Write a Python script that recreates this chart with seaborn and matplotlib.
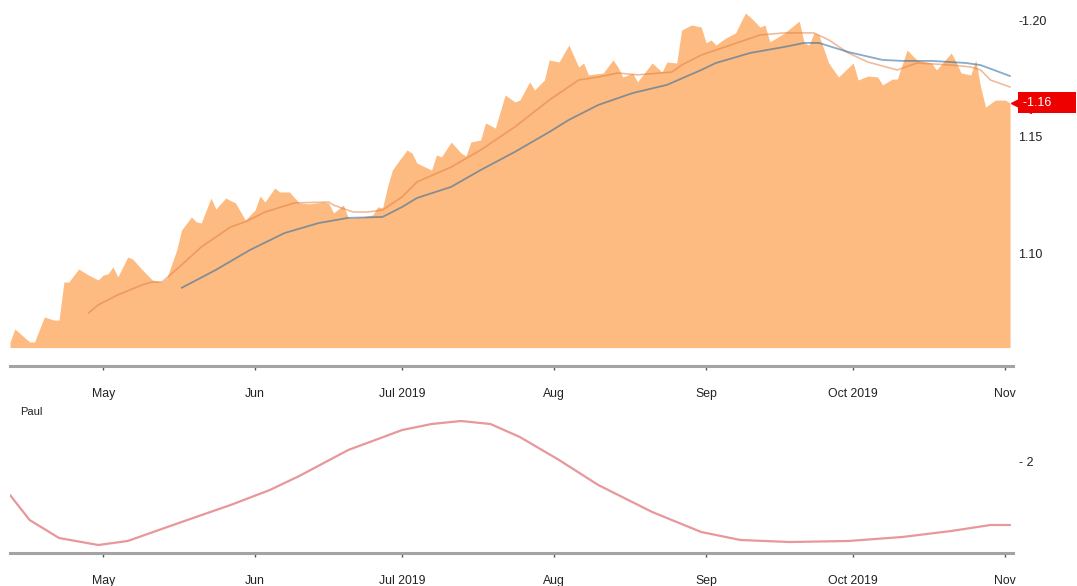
import numpy as np
import pandas as pd
import matplotlib
matplotlib.use('Agg')
import matplotlib.pyplot as plt
from matplotlib.transforms import blended_transform_factory
import seaborn as sns

sns.set_theme(style='white')
plt.rcParams['font.family'] = ['Liberation Sans', 'DejaVu Sans']

# ---------------- data ----------------
price_dates = ['2019-04-12','2019-04-13','2019-04-16','2019-04-17','2019-04-19','2019-04-21','2019-04-22','2019-04-23','2019-04-24','2019-04-26','2019-04-28','2019-04-30',
               '2019-05-01','2019-05-02','2019-05-03','2019-05-04','2019-05-06','2019-05-07','2019-05-09','2019-05-11','2019-05-13','2019-05-14','2019-05-16','2019-05-17','2019-05-19','2019-05-20','2019-05-21','2019-05-23','2019-05-24','2019-05-26','2019-05-28','2019-05-30',
               '2019-06-01','2019-06-02','2019-06-03','2019-06-05','2019-06-06','2019-06-08','2019-06-10','2019-06-12','2019-06-15','2019-06-16','2019-06-17','2019-06-19','2019-06-20','2019-06-21','2019-06-23','2019-06-25','2019-06-26','2019-06-27','2019-06-28','2019-06-29','2019-06-30',
               '2019-07-02','2019-07-03','2019-07-04','2019-07-07','2019-07-08','2019-07-09','2019-07-11','2019-07-13','2019-07-14','2019-07-15','2019-07-17','2019-07-18','2019-07-20','2019-07-22','2019-07-24','2019-07-25','2019-07-27','2019-07-28','2019-07-30','2019-07-31',
               '2019-08-02','2019-08-04','2019-08-06','2019-08-07','2019-08-08','2019-08-11','2019-08-13','2019-08-14','2019-08-15','2019-08-17','2019-08-18','2019-08-21','2019-08-23','2019-08-24','2019-08-26','2019-08-27','2019-08-29','2019-08-31',
               '2019-09-01','2019-09-02','2019-09-03','2019-09-05','2019-09-07','2019-09-09','2019-09-10','2019-09-12','2019-09-13','2019-09-14','2019-09-17','2019-09-20','2019-09-21','2019-09-22','2019-09-23','2019-09-24','2019-09-26','2019-09-28',
               '2019-10-01','2019-10-02','2019-10-04','2019-10-06','2019-10-07','2019-10-09','2019-10-10','2019-10-12','2019-10-13','2019-10-14','2019-10-17','2019-10-18','2019-10-21','2019-10-22','2019-10-23','2019-10-25','2019-10-26','2019-10-27','2019-10-28','2019-10-30',
               '2019-11-01','2019-11-02']
price_values = [1.0620, 1.0677, 1.0621, 1.0621, 1.0728, 1.0715, 1.0715, 1.0878, 1.0878, 1.0934, 1.0908, 1.0887,
                1.0908, 1.0913, 1.0943, 1.0900, 1.0985, 1.0977, 1.0930, 1.0887, 1.0878, 1.0895, 1.1015, 1.1101, 1.1157, 1.1136, 1.1131, 1.1238, 1.1191, 1.1238, 1.1217, 1.1144,
                1.1187, 1.1247, 1.1221, 1.1281, 1.1264, 1.1264, 1.1217, 1.1213, 1.1221, 1.1217, 1.1174, 1.1208, 1.1153, 1.1153, 1.1157, 1.1166, 1.1200, 1.1196, 1.1286, 1.1358, 1.1388,
                1.1444, 1.1431, 1.1388, 1.1358, 1.1423, 1.1414, 1.1478, 1.1431, 1.1418, 1.1478, 1.1487, 1.1560, 1.1538, 1.1680, 1.1650, 1.1658, 1.1736, 1.1701, 1.1744, 1.1830,
                1.1821, 1.1894, 1.1800, 1.1817, 1.1766, 1.1774, 1.1830, 1.1800, 1.1757, 1.1774, 1.1736, 1.1817, 1.1778, 1.1821, 1.1817, 1.1958, 1.1980, 1.1971,
                1.1903, 1.1916, 1.1894, 1.1924, 1.1946, 1.2031, 1.2014, 1.1971, 1.1980, 1.1907, 1.1946, 1.1997, 1.1903, 1.1894, 1.1946, 1.1937, 1.1817, 1.1757,
                1.1817, 1.1744, 1.1761, 1.1757, 1.1723, 1.1748, 1.1748, 1.1873, 1.1851, 1.1830, 1.1817, 1.1787, 1.1860, 1.1821, 1.1774, 1.1766, 1.1830, 1.1714, 1.1628, 1.1658,
                1.1658, 1.1646]

ma_fast_dates = ['2019-04-28','2019-04-30','2019-05-04','2019-05-09','2019-05-11','2019-05-13','2019-05-17','2019-05-21','2019-05-27','2019-05-30',
                 '2019-06-03','2019-06-09','2019-06-16','2019-06-17','2019-06-21','2019-06-24','2019-06-27','2019-07-01','2019-07-04','2019-07-11',
                 '2019-07-17','2019-07-24','2019-07-31','2019-08-06','2019-08-10','2019-08-14','2019-08-18','2019-08-25','2019-08-27','2019-08-31',
                 '2019-09-06','2019-09-12','2019-09-17','2019-09-23','2019-09-26','2019-09-30','2019-10-04','2019-10-10','2019-10-14','2019-10-21',
                 '2019-10-25','2019-10-27','2019-10-29','2019-11-02']
ma_fast_values = [1.0745, 1.0780, 1.0823, 1.0866, 1.0878, 1.0878, 1.0951, 1.1028, 1.1114, 1.1136,
                  1.1178, 1.1217, 1.1221, 1.1208, 1.1178, 1.1178, 1.1187, 1.1243, 1.1307, 1.1371,
                  1.1444, 1.1543, 1.1658, 1.1744, 1.1757, 1.1774, 1.1766, 1.1778, 1.1808, 1.1851,
                  1.1894, 1.1937, 1.1946, 1.1946, 1.1916, 1.1860, 1.1821, 1.1787, 1.1817, 1.1808,
                  1.1800, 1.1787, 1.1744, 1.1714]

ma_slow_dates = ['2019-05-17','2019-05-24','2019-05-31','2019-06-07','2019-06-14','2019-06-20','2019-06-27','2019-07-01','2019-07-04','2019-07-11',
                 '2019-07-17','2019-07-24','2019-07-31','2019-08-04','2019-08-10','2019-08-17','2019-08-24','2019-08-31','2019-09-03','2019-09-10',
                 '2019-09-17','2019-09-21','2019-09-24','2019-09-30','2019-10-07','2019-10-11','2019-10-17','2019-10-24','2019-10-27','2019-11-02']
ma_slow_values = [1.0853, 1.0930, 1.1016, 1.1088, 1.1131, 1.1153, 1.1157, 1.1200, 1.1238, 1.1286,
                  1.1358, 1.1436, 1.1521, 1.1573, 1.1637, 1.1688, 1.1723, 1.1787, 1.1817, 1.1860,
                  1.1886, 1.1903, 1.1903, 1.1864, 1.1830, 1.1826, 1.1826, 1.1817, 1.1808, 1.1761]

paul_dates = ['2019-04-12','2019-04-16','2019-04-22','2019-04-30','2019-05-06','2019-05-17','2019-05-27','2019-06-04','2019-06-10','2019-06-20',
              '2019-07-01','2019-07-07','2019-07-13','2019-07-19','2019-07-25','2019-08-02','2019-08-10','2019-08-21','2019-08-31','2019-09-08',
              '2019-09-18','2019-09-30','2019-10-11','2019-10-21','2019-10-29','2019-11-02']
paul_values = [1.32, 0.82, 0.46, 0.32, 0.40, 0.78, 1.12, 1.42, 1.70, 2.22,
               2.62, 2.74, 2.80, 2.74, 2.48, 2.02, 1.52, 0.98, 0.58, 0.42,
               0.38, 0.40, 0.48, 0.60, 0.72, 0.72]

month_ticks = ['2019-05-01','2019-06-01','2019-07-01','2019-08-01','2019-09-01','2019-10-01','2019-11-01']
month_labels = ['May', 'Jun', 'Jul 2019', 'Aug', 'Sep', 'Oct 2019', 'Nov']

price_ticks = [1.10, 1.15, 1.20]
price_tick_labels = ['1.10', '1.15', '-1.20']
paul_ticks = [2]
paul_tick_labels = ['- 2']
last_label = '-1.16'
panel_label = 'Paul'

# ---------------- frames ----------------
price = pd.DataFrame({'date': pd.to_datetime(price_dates), 'value': price_values})
fast = pd.DataFrame({'date': pd.to_datetime(ma_fast_dates), 'value': ma_fast_values})
slow = pd.DataFrame({'date': pd.to_datetime(ma_slow_dates), 'value': ma_slow_values})
paul = pd.DataFrame({'date': pd.to_datetime(paul_dates), 'value': paul_values})
ticks = pd.to_datetime(month_ticks)

W, H = 1077, 586
fig = plt.figure(figsize=(W / 100, H / 100), dpi=100)
ax1 = fig.add_axes([10 / W, 1 - 366 / H, 1003 / W, 366 / H])
ax2 = fig.add_axes([10 / W, 1 - 553 / H, 1003 / W, 148 / H])

xmin = pd.Timestamp('2019-04-12')
xmax = xmin + pd.Timedelta(days=204.6)

# top panel
base = 1.0597
ax1.fill_between(price['date'], base, price['value'], color='#fdbb82', lw=0, zorder=1)
sns.lineplot(data=fast, x='date', y='value', ax=ax1, color='#e07b39', alpha=0.5, lw=1.2, zorder=3)
sns.lineplot(data=slow, x='date', y='value', ax=ax1, color='#26669d', alpha=0.55, lw=1.3, zorder=3)
ax1.set_ylim(1.0518, 1.2087)
ax1.yaxis.tick_right()
ax1.set_yticks(price_ticks)
ax1.set_yticklabels(price_tick_labels)

# bottom panel
sns.lineplot(data=paul, x='date', y='value', ax=ax2, color='#e8979a', lw=1.6)
ax2.set_ylim(0.16, 3.12)
ax2.yaxis.tick_right()
ax2.set_yticks(paul_ticks)
ax2.set_yticklabels(paul_tick_labels)
ax2.text(0.01, 0.95, panel_label, transform=ax2.transAxes, fontsize=8, color='#222222', va='center', ha='left')

for ax in (ax1, ax2):
    ax.set_xlim(xmin, xmax)
    ax.set_xticks(ticks)
    ax.set_xticklabels(month_labels)
    ax.set_xlabel('')
    ax.set_ylabel('')
    ax.grid(False)
    for s in ('top', 'left', 'right'):
        ax.spines[s].set_visible(False)
    ax.spines['bottom'].set_color('#a3a3a3')
    ax.spines['bottom'].set_linewidth(2.2)
    ax.tick_params(axis='x', bottom=True, length=3, width=1, color='#555555', pad=13, labelsize=8.8, labelcolor='#222222')
    ax.tick_params(axis='y', right=True, left=False, length=0, pad=4, labelsize=9, labelcolor='#222222')
    ax.set_facecolor('none')

# last value tag
tr = blended_transform_factory(ax1.transAxes, ax1.transData)
last = price['value'].iloc[-1]
ax1.plot([1.0075], [last], marker='<', ms=14, color='#ee0000', transform=tr, clip_on=False, zorder=5)
ax1.text(1.0095, last, last_label + '      ', transform=tr, color='white', fontsize=9, va='center', ha='left',
         bbox=dict(boxstyle='square,pad=0.35', fc='#ee0000', ec='none'), clip_on=False, zorder=6)

fig.savefig('out.png', dpi=100)
